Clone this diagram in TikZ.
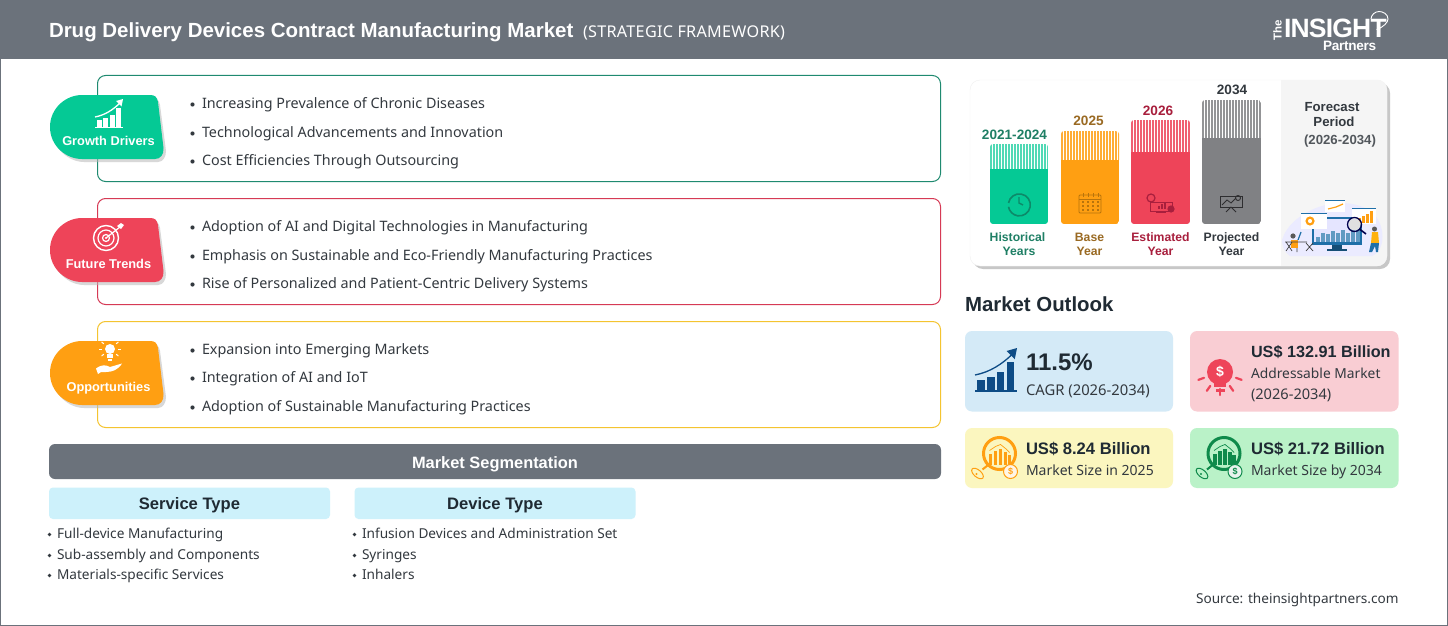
\documentclass[tikz,border=0pt]{standalone}
\usepackage{fontspec}
\setmainfont{Noto Sans}[BoldFont={Liberation Sans Bold}]
\newfontfamily\logofont{Liberation Sans}
\definecolor{hdr}{HTML}{6B727B}
\definecolor{txt}{HTML}{33393F}
\definecolor{dark}{HTML}{1F2A33}
\definecolor{cgreen}{HTML}{05C995}
\definecolor{cgreenb}{HTML}{1F8A70}
\definecolor{cred}{HTML}{EE4459}
\definecolor{credb}{HTML}{D63A55}
\definecolor{corange}{HTML}{FF9F12}
\definecolor{corangeb}{HTML}{F4C430}
\definecolor{cgrey}{HTML}{808184}
\definecolor{segblue}{HTML}{CDF1FB}
\definecolor{kblue}{HTML}{D4EAF7}
\definecolor{kred}{HTML}{F9CDD3}
\definecolor{kyellow}{HTML}{FBF6BF}
\definecolor{kgreen}{HTML}{BAF2C8}
\definecolor{navy}{HTML}{0E4C86}
\definecolor{dgreen}{HTML}{0F8A4B}
\tikzset{
  x=1pt,y=-1pt,
  every node/.style={inner sep=0pt,outer sep=0pt},
  lbl/.style={anchor=base west,text=txt,font=\fontsize{14.35}{16}\selectfont},
  seglbl/.style={anchor=base west,text=txt,font=\fontsize{13.65}{16}\selectfont},
  bdot/.style={circle,fill=txt,minimum size=4.2pt},
  framebox/.style={rounded corners=8pt,line width=1pt,fill=white},
  badgetxt/.style={anchor=base,text=white,font=\fontsize{12.8}{14}\selectfont\bfseries},
  kpi/.style={rounded corners=7pt,draw=none},
  kbig/.style={anchor=base west,text=dark,font=\fontsize{16.2}{18}\selectfont\bfseries},
  ksub/.style={anchor=base west,text=txt,font=\fontsize{14}{16}\selectfont},
  yrtxt/.style={anchor=base,font=\fontsize{13.6}{14}\selectfont\bfseries},
  captxt/.style={anchor=base,font=\fontsize{12.2}{14}\selectfont\bfseries,align=center},
}
% badge with its shadow: #1 top y, #2 colour
\newcommand\badge[2]{%
  \begin{scope}[shift={(0,#1)}]
    \fill[black!28,opacity=.55] (52,35) .. controls (52,15) and (68,3) .. (84,3) -- (152,3)
       .. controls (157,3) and (159,5) .. (160,10) -- (166,56) .. controls (166,62) and (163,67) .. (158,67)
       -- (84,67) .. controls (68,67) and (52,52) .. (52,35) -- cycle;
    \fill[#2] (50,32) .. controls (50,13) and (66,0) .. (82,0) -- (150,0)
       .. controls (155,0) and (157,2) .. (158,7) -- (163.5,53) .. controls (164,60) and (160,64) .. (155,64)
       -- (82,64) .. controls (66,64) and (50,51) .. (50,32) -- cycle;
  \end{scope}}
% rising bars + arrow: origin x,y baseline-left, scale, colour
\newcommand\trendicon[4]{%
  \begin{scope}[shift={(#1,#2)},scale=#3]
    \fill[#4] (0,0) rectangle (28,-1.3);
    \fill[#4] (1.5,-1.3) rectangle (6.5,-8);
    \fill[#4] (8,-1.3) rectangle (13,-10);
    \fill[#4] (14.5,-1.3) rectangle (19.5,-13);
    \fill[#4] (21,-1.3) rectangle (26,-20);
    \draw[#4,line width=1.3pt] (0,-11) .. controls (10,-13) and (18,-18) .. (26,-26);
    \fill[#4] (28,-29) -- (26.5,-21.5) -- (21,-27) -- cycle;
  \end{scope}}
% magnifier with bars and coin
\newcommand\lensicon[3]{%
  \begin{scope}[shift={(#1,#2)}]
    \draw[#3,line width=3pt] (0,0) circle (16);
    \foreach \i/\h in {-9/8,-4/11,1/13,6/10,10/7}{\fill[#3] (\i-1.7,11) rectangle (\i+1.7,11-\h-3);}
    \draw[#3,line width=.7pt] (-10,-3) -- (-4,-7) -- (1,-9) -- (6,-5) -- (10,-1);
    \draw[#3,line width=2pt] (-12,12) -- (-17,16);
    \draw[#3,line width=1pt,rotate around={-40:(-22,20)}] (-22,20) ellipse (7 and 3.6);
    \fill[#3] (-23,20.5) circle (1.2);
    \draw[#3,line width=1pt,fill=#3!10] (11,18) circle (7);
    \node[text=#3,font=\fontsize{9}{9}\selectfont\bfseries] (lens#1) at (11,18) {\$};
  \end{scope}}
\begin{document}
\begin{tikzpicture}
\useasboundingbox (0,0) rectangle (1448,626);
\fill[white] (0,0) rectangle (1448,626);
\draw[hdr,line width=1pt] (.5,0) -- (.5,625.5) -- (1447.5,625.5) -- (1447.5,0);
\fill[hdr] (0,0) rectangle (1448,59);
\node[anchor=base west,text=white,font=\fontsize{20.47}{22}\selectfont\bfseries] (title) at (49,37.5) {Drug Delivery Devices Contract Manufacturing Market};
\node[anchor=base west,text=white,font=\fontsize{16.2}{18}\selectfont] (subtitle) at (583,37.5) {\addfontfeature{LetterSpace=1.7}(STRATEGIC FRAMEWORK)};
% logo
\node[anchor=base west,text=white,font=\logofont\fontsize{26.5}{28}\selectfont\bfseries] (logo) at (1284,37.5) {\addfontfeature{LetterSpace=-3}INSIGHT};
\node[anchor=base,rotate=90,text=white,font=\logofont\fontsize{11.5}{12}\selectfont\bfseries] (logothe) at (1281.5,30) {The};
\node[anchor=base west,text=white,font=\logofont\fontsize{13.6}{14}\selectfont\bfseries] (logop) at (1323,51) {\addfontfeature{LetterSpace=-2}Partners};
\draw[white,line width=.9pt] (1376.5,29.5) .. controls (1384,27) and (1388,22) .. (1388,19) .. controls (1388,14) and (1383,11.5) .. (1379,11.5) .. controls (1375,11.5) and (1371,15) .. (1371,19);
% framed boxes
\draw[framebox,draw=cgreenb] (97.5,75.5) rectangle (940.5,181.5);
\draw[framebox,draw=credb] (97.5,198.5) rectangle (940.5,304.5);
\draw[framebox,draw=corangeb] (97.5,321.5) rectangle (940.5,427.5);
\badge{95}{cgreen}
\badge{218}{cred}
\badge{341}{corange}
% badge icons
\trendicon{95}{128}{1}{white}
\node[badgetxt] (bg) at (108.5,145.5) {Growth Drivers};
\begin{scope}[shift={(106,238)}]
  \draw[white,line width=1.4pt] (0,0) circle (12.5);
  \draw[white,line width=1.2pt] (0,0) circle (8);
  \draw[white,line width=1.2pt] (0,0) circle (3.5);
  \fill[white] (0,0) circle (1.2);
  \draw[white,line width=1.2pt] (0,0) -- (14,-11);
  \fill[white] (11,-12) -- (15,-15) -- (18,-13) -- (15,-9) -- cycle;
\end{scope}
\node[badgetxt] (bf) at (108.5,268.5) {Future Trends};
\begin{scope}[shift={(110,356)}]
  \fill[white] (0,-7) circle (5);
  \fill[white] (-2.6,-2) rectangle (2.6,2);
  \fill[white] (-1.8,3) rectangle (1.8,4.5);
  \foreach \a in {0,40,140,180,220,320,270}{\draw[white,line width=1pt] (0,-7) ++(\a:8) -- ++(\a:3);}
  \fill[white] (-14,12.5) .. controls (-8,8) and (-4,9) .. (0,11) -- (12,7.5) .. controls (8,14) and (2,16) .. (-4,16) -- (-9,16) -- (-12,18) -- cycle;
\end{scope}
\node[badgetxt] (bo) at (108.5,391.5) {Opportunities};
% bullets
\foreach \yy/\t [count=\i] in {
 108/Increasing Prevalence of Chronic Diseases,
 137/Technological Advancements and Innovation,
 165/Cost Efficiencies Through Outsourcing,
 231/Adoption of AI and Digital Technologies in Manufacturing,
 260/Emphasis on Sustainable and Eco-Friendly Manufacturing Practices,
 288/Rise of Personalized and Patient-Centric Delivery Systems,
 354/Expansion into Emerging Markets,
 382/Integration of AI and IoT,
 411/Adoption of Sustainable Manufacturing Practices}{
  \node[bdot] (d\i) at (192.5,\yy-3.5) {};
  \node[lbl] (t\i) at (202,\yy) {\t};
}
% segmentation
\fill[hdr,rounded corners=6pt] (49,444) rectangle (941,479);
\node[anchor=base,text=white,font=\fontsize{16.4}{18}\selectfont\bfseries] (seg) at (495,468.5) {Market Segmentation};
\fill[segblue,rounded corners=4pt] (49,487.5) rectangle (330,519);
\fill[segblue,rounded corners=4pt] (354.5,487.5) rectangle (635.5,519);
\node[anchor=base,text=dark,font=\fontsize{16.6}{18}\selectfont\bfseries] (st) at (189.5,509.5) {Service Type};
\node[anchor=base,text=dark,font=\fontsize{16.6}{18}\selectfont\bfseries] (dt) at (495,509.5) {Device Type};
\foreach \yy/\t [count=\i] in {538/Full-device Manufacturing,559/Sub-assembly and Components,579/Materials-specific Services}{
  \node[bdot,minimum size=3.8pt] (sd\i) at (49.5,\yy-3.5) {};
  \node[seglbl] (s\i) at (57,\yy) {\t};
}
\foreach \yy/\t [count=\i] in {538/Infusion Devices and Administration Set,559/Syringes,579/Inhalers}{
  \node[bdot,minimum size=3.8pt] (vd\i) at (354.5,\yy-3.5) {};
  \node[seglbl] (v\i) at (362,\yy) {\t};
}
% timeline panel
\fill[black!22,rounded corners=10pt] (973,83) rectangle (1390,269);
\fill[white,rounded corners=10pt] (970,80) rectangle (1387,266);
\draw[black!6,rounded corners=10pt] (970,80) rectangle (1387,266);
\begin{scope}
  \clip[rounded corners=10pt] (970,80) rectangle (1387,266);
  \fill[black!4] (1281,80) rectangle (1387,266);
\end{scope}
\newcommand\barcol[6]{% x0,x1,top,solidtop,colour,stripe colour
  \begin{scope}
    \clip[rounded corners=3pt] (#1,#3) rectangle (#2,224);
    \fill[white] (#1,#3) rectangle (#2,#4);
    \foreach \s in {0,3,...,60}{\fill[#6] (#1+\s,#3) rectangle (#1+\s+1.9,#4);}
    \fill[#5] (#1,#4) rectangle (#2,224);
  \end{scope}}
\barcol{990}{1048}{144}{169}{cgreen}{cgreen!70!white}
\barcol{1061}{1119}{131}{160}{corange}{corange!85!white}
\barcol{1131}{1190}{120}{152}{cred}{cred!85!white}
\barcol{1202}{1261}{100}{138}{cgrey}{cgrey!85!white}
\definecolor{ygreen}{HTML}{1F7F65}
\definecolor{yorange}{HTML}{9A6A23}
\definecolor{yred}{HTML}{A81F3D}
\definecolor{ygrey}{HTML}{33393F}
\node[yrtxt,text=ygreen] (y1) at (1014.5,139) {2021-2024};
\node[yrtxt,text=yorange] (y2) at (1088.5,125) {2025};
\node[yrtxt,text=yred] (y3) at (1158,115) {2026};
\node[yrtxt,text=ygrey] (y4) at (1232,95) {2034};
\node[captxt,text=ygreen] (c1a) at (1017.5,241) {Historical};
\node[captxt,text=ygreen] (c1b) at (1019,255) {Years};
\node[captxt,text=yorange] (c2a) at (1089.5,241) {Base};
\node[captxt,text=yorange] (c2b) at (1089.5,255) {Year};
\node[captxt,text=yred] (c3a) at (1160.5,241) {Estimated};
\node[captxt,text=yred] (c3b) at (1160.5,255) {Year};
\node[captxt,text=ygrey] (c4a) at (1231.5,241) {Projected};
\node[captxt,text=ygrey] (c4b) at (1231.5,255) {Year};
\node[anchor=base,text=ygrey,font=\fontsize{13.2}{14}\selectfont\bfseries] (f1) at (1332,111) {Forecast};
\node[anchor=base,text=ygrey,font=\fontsize{13.2}{14}\selectfont\bfseries] (f2) at (1334,126) {Period};
\node[anchor=base,text=ygrey!85!white,font=\fontsize{13.2}{14}\selectfont\bfseries] (f3) at (1340,144) {(2026-2034)};
% bar icons
\definecolor{gi}{HTML}{0D8A69}
\draw[gi,line width=1.6pt] (1008.5,203) arc[start angle=-170,end angle=170,radius=11];
\draw[gi,line width=1.4pt] (1019,197) -- (1019,203) -- (1023,205);
\begin{scope}
  \definecolor{oi}{HTML}{B8740C}
  \draw[oi,line width=.9pt,rounded corners=1pt] (1079,195) rectangle (1101,213);
  \draw[oi,line width=.8pt] (1079,199) -- (1101,199);
  \foreach \xx in {1083,1088,1093,1098}{\foreach \yy in {202,206,210}{\fill[oi] (\xx-1,\yy-1) rectangle (\xx+1,\yy+1);}
    \draw[oi,line width=.8pt] (\xx,193) -- (\xx,197);}
\end{scope}
\begin{scope}
  \definecolor{ri}{HTML}{A81F3D}
  \draw[ri,line width=.9pt] (1150,202) rectangle (1172,211);
  \draw[ri,line width=1.2pt] (1151,198) circle (4);
  \fill[ri] (1171,209) circle (3.6);
  \foreach \xx/\h in {1158/3,1161/5,1164/7}{\fill[ri] (\xx,209) rectangle (\xx+1.6,209-\h);}
  \draw[ri,line width=1pt] (1156,212) -- (1166,212);
\end{scope}
\begin{scope}
  \definecolor{ki}{HTML}{2E2E30}
  \draw[ki,line width=.9pt] (1220,196) rectangle (1242,207);
  \draw[ki,line width=.8pt] (1222,205) -- (1227,200) -- (1231,203) -- (1236,198);
  \draw[ki,line width=.9pt] (1238,198) circle (2.5);
  \draw[ki,line width=.9pt] (1231,207) -- (1226,212) (1231,207) -- (1236,212);
\end{scope}
% forecast illustration
\begin{scope}
  \fill[blue!8] (1282,240) .. controls (1290,212) and (1340,190) .. (1372,212) .. controls (1386,225) and (1386,250) .. (1372,256) -- (1290,256) .. controls (1284,252) and (1282,246) .. (1282,240) -- cycle;
  \definecolor{mon}{HTML}{1E6FA8}
  \fill[mon] (1312,217) rectangle (1362,245);
  \fill[blue!10] (1314,219) rectangle (1360,242);
  \foreach \xx/\h in {1316/5,1321/9,1326/8,1331/11,1336/9,1341/12,1346/9,1351/14,1356/16}{\fill[mon!70!white] (\xx,242) rectangle (\xx+3.5,242-\h);}
  \fill[mon!70!black] (1332,245) rectangle (1342,249);
  \fill[mon!70!black] (1327,249) rectangle (1347,250.5);
  \fill[white] (1301,214) rectangle (1327,229);
  \draw[mon,line width=1pt] (1301,213.5) -- (1327,213.5);
  \draw[corange,line width=2.2pt] (1310,221) circle (3.4);
  \fill[white] (1325,200) rectangle (1345,212);
  \draw[mon,line width=1pt] (1325,200) -- (1345,200);
  \draw[corange,line width=1.2pt] (1328,209) -- (1336,207) -- (1343,204);
  \fill[white] (1352,208) rectangle (1376,224);
  \draw[mon,line width=1pt] (1352,208) -- (1376,208);
  \foreach \xx/\h in {1354/3,1358/5,1362/7,1366/9,1370/12}{\fill[corange] (\xx,223) rectangle (\xx+2.6,223-\h);}
  \fill[black!12] (1354.5,224.5) circle (6);
  \draw[black!70!blue,line width=1.3pt] (1354.5,224.5) circle (7);
  \draw[black!70!blue,line width=1.6pt] (1360,229.5) -- (1366,234);
  % right person
  \fill[corange!80!yellow] (1372,232) -- (1378,232) -- (1379,243) -- (1371,243) -- cycle;
  \fill[black!65] (1374.5,229) circle (2.5);
  \fill[mon] (1371,243) -- (1379,243) -- (1378,252) -- (1376,252) -- (1375,246) -- (1372,252) -- (1369,252) -- cycle;
  % left person
  \fill[corange] (1291,240) rectangle (1298,248);
  \fill[black!65] (1293,236) circle (2.6);
  \draw[black!75,line width=.7pt] (1285,242) -- (1307,242) (1286,242) -- (1292,251) (1292,242) -- (1286,251) (1306,243) -- (1313,251) (1313,243) -- (1306,251) (1297,248) -- (1297,252);
  \draw[mon,line width=1.2pt] (1298,240) -- (1301,232);
\end{scope}
% outlook
\node[anchor=base west,text=dark,font=\fontsize{20.4}{24}\selectfont\bfseries] (mo) at (965,311) {Market Outlook};
\fill[kblue,kpi] (965,331) rectangle (1173,411.5);
\fill[kred,kpi] (1190,331) rectangle (1398.5,411.5);
\fill[kyellow,kpi] (965,428) rectangle (1173,488);
\fill[kgreen,kpi] (1190,428) rectangle (1398.5,488);
\trendicon{975}{391.5}{1.5}{navy}
\node[anchor=base west,text=dark,font=\fontsize{24}{30}\selectfont\bfseries] (k1) at (1026,370.5) {11.5\%};
\node[ksub,font=\fontsize{14.8}{16}\selectfont] (k1s) at (1026,395) {CAGR (2026-2034)};
% bulb
\begin{scope}[shift={(1220,372)}]
  \fill[cred] (0,0) circle (13);
  \fill[cred] (-6,8) rectangle (6,15);
  \fill[cred] (-4.5,16.5) rectangle (4.5,20);
  \node[text=white,font=\fontsize{14}{14}\selectfont\bfseries] (bulbd) at (0,0) {\$};
  \foreach \a in {160,125,90,55,20}{\draw[cred,line width=2.2pt,line cap=round] (\a:17) -- (\a:23);}
\end{scope}
\node[kbig] (k2) at (1251,357.5) {US\$ 132.91 Billion};
\node[ksub,font=\fontsize{13.8}{16}\selectfont] (k2s) at (1251,378) {Addressable Market};
\node[ksub,font=\fontsize{14.6}{16}\selectfont] (k2t) at (1251,399) {(2026-2034)};
\lensicon{999.5}{453.5}{corange}
\node[kbig,font=\fontsize{16.6}{18}\selectfont\bfseries] (k3) at (1026,454.5) {US\$ 8.24 Billion};
\node[ksub] (k3s) at (1026,475) {Market Size in 2025};
\lensicon{1224}{453.5}{dgreen}
\node[kbig,font=\fontsize{16.6}{18}\selectfont\bfseries] (k4) at (1251,454.5) {US\$ 21.72 Billion};
\node[ksub] (k4s) at (1251,475) {Market Size by 2034};
\node[anchor=base east,text=txt,font=\fontsize{13.6}{16}\selectfont] (src) at (1398.5,603) {Source: theinsightpartners.com};
\end{tikzpicture}
\end{document}
